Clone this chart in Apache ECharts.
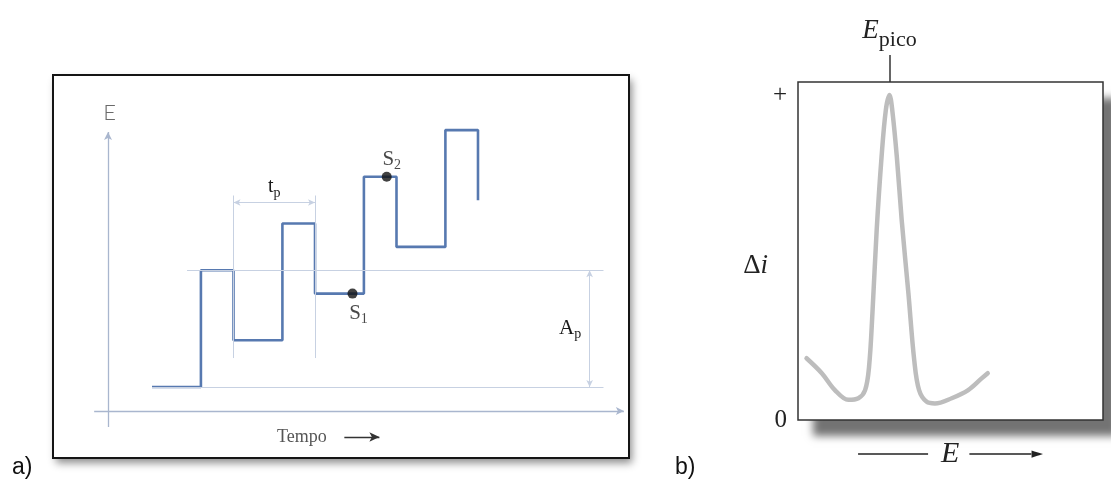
<!DOCTYPE html>
<html>
<head>
<meta charset="utf-8">
<script src="https://cdn.jsdelivr.net/npm/echarts@6/dist/echarts.min.js"></script>
<style>
  html, body { margin: 0; padding: 0; background: #ffffff; }
  #chart { width: 1111px; height: 484px; }
</style>
</head>
<body>
<div id="chart"></div>
<script>
// ---- a) staircase with superimposed pulses ----
// time at which the potential changes, and the level held from that time on
const stepTimes  = [0, 6, 10, 16, 20, 26, 30, 36, 40];
const stepLevels = [0, 5, 2, 7, 4, 9, 6, 11, 8];
// current sampling instants S1 (before pulse) and S2 (end of pulse)
const sampleTimes  = [24.6, 28.8];
const sampleLevels = [4, 9];
const sampleNames  = ['S1', 'S2'];

// ---- b) differential pulse voltammogram ----
const potential = [0.28, 0.78, 1.21, 1.65, 1.98, 2.2, 2.33, 2.44, 2.58, 2.74, 2.88, 3.0,
                   3.09, 3.24, 3.4, 3.62, 3.81, 3.97, 4.22, 4.49, 5.04, 5.58, 6.02, 6.22];
const deltaI    = [0.19, 0.144, 0.092, 0.062, 0.067, 0.092, 0.164, 0.328, 0.585, 0.81, 0.954, 1.0,
                   0.954, 0.81, 0.615, 0.39, 0.185, 0.092, 0.056, 0.051, 0.067, 0.092, 0.128, 0.144];
const peakPotential = 3.0;
const currentTicks  = [0, 1];
const currentTickLabels = ['0', '+'];

// ---------------------------------------------------------------
const SERIF = '"Liberation Serif", "DejaVu Serif", serif';
const SANS  = '"Liberation Sans", Arial, sans-serif';
const WAVE  = '#5779b0';
const AXIS  = '#a9b6ce';
const GUIDE = '#c7d1e2';

const wave = stepTimes.map((t, i) => [t, stepLevels[i]]);
const peak = potential.map((e, i) => [e, deltaI[i]]);

// reference marks derived from the waveform
const base   = stepLevels[0];
const pulse1 = stepLevels[1];
const tpFrom = stepTimes[2];
const tpTo   = stepTimes[4];

// where the drawn axes of panel a cross (data units of that panel)
const axisT = -5.4, axisE = -1.03;
const guideEnd = 55.4, apT = 53.7;

// panel frames: [left, top, width, height]
const frameA = [53, 75, 576, 383];
const frameB = [798, 82, 305, 338];

function seg(p0, p1, color, width, arrows, size) {
  arrows = arrows || ['none', 'none'];
  size = size || [6, 8];
  return [
    { coord: p0, symbol: arrows[0], symbolSize: size, lineStyle: { color: color, width: width, type: 'solid' } },
    { coord: p1, symbol: arrows[1], symbolSize: size }
  ];
}

// subscript text: the smaller run is pushed down by its top padding
const subRich = (main, sub, drop, color) => ({
  m: { fontFamily: SERIF, fontSize: main, lineHeight: main, color: color || '#1a1a1a' },
  s: { fontFamily: SERIF, fontSize: sub, lineHeight: sub, padding: [drop, 0, 0, 0], color: color || '#1a1a1a' }
});

const gridBox = (f, extra) => Object.assign({ left: f[0], top: f[1], width: f[2], height: f[3], show: true, outerBoundsMode: 'none' }, extra);
const hiddenAxis = (gi) => ({ gridIndex: gi, type: 'value', min: 0, max: 1, show: false });

const chart = echarts.init(document.getElementById('chart'), null, { renderer: 'canvas' });

chart.setOption({
  animation: false,
  backgroundColor: '#ffffff',
  title: [
    { text: 'a)', left: 12, top: 456, padding: 0,
      textStyle: { fontFamily: SANS, fontSize: 23, fontWeight: 'normal', color: '#111' } },
    { text: 'b)', left: 675, top: 456, padding: 0,
      textStyle: { fontFamily: SANS, fontSize: 23, fontWeight: 'normal', color: '#111' } }
  ],
  grid: [
    // plotting areas, with their drop shadows
    gridBox(frameA, { backgroundColor: '#ffffff', borderWidth: 0,
      shadowColor: 'rgba(0,0,0,0.45)', shadowBlur: 8, shadowOffsetX: 3, shadowOffsetY: 5 }),
    gridBox(frameB, { backgroundColor: '#ffffff', borderWidth: 0,
      shadowColor: 'rgba(0,0,0,0.55)', shadowBlur: 8, shadowOffsetX: 15, shadowOffsetY: 16 }),
    // frame outlines drawn on top
    gridBox(frameA, { backgroundColor: 'transparent', borderColor: '#151515', borderWidth: 2 }),
    gridBox(frameB, { backgroundColor: 'transparent', borderColor: '#333333', borderWidth: 1.5 })
  ],
  xAxis: [
    { gridIndex: 0, type: 'value', min: -12.15, max: 58.53, show: false },
    { gridIndex: 1, type: 'value', min: 0, max: 10, position: 'bottom',
      axisLine: { show: false }, axisTick: { show: false }, axisLabel: { show: false }, splitLine: { show: false },
      name: '{l1|}{e|E}{l2|}{ar|►}', nameLocation: 'middle', nameGap: 19,
      nameTextStyle: {
        rich: {
          l1: { width: 70, height: 1.6, backgroundColor: '#222' },
          e:  { fontFamily: SERIF, fontStyle: 'italic', fontSize: 30, lineHeight: 30, color: '#222', padding: [0, 10, 0, 13] },
          l2: { width: 62, height: 1.6, backgroundColor: '#222' },
          ar: { fontFamily: '"DejaVu Sans", sans-serif', fontSize: 15, color: '#222' }
        }
      } },
    { gridIndex: 1, type: 'value', min: 0, max: 10, position: 'top',
      axisLine: { show: false }, splitLine: { show: false },
      axisTick: { show: true, customValues: [peakPotential], length: 27, inside: false,
        lineStyle: { color: '#333', width: 1.5 } },
      axisLabel: { show: true, customValues: [peakPotential], margin: 38,
        formatter: () => '{e|E}{s|pico}',
        rich: {
          e: { fontFamily: SERIF, fontStyle: 'italic', fontSize: 27, lineHeight: 27, color: '#222' },
          s: { fontFamily: SERIF, fontSize: 22, lineHeight: 22, padding: [20, 0, 0, 0], color: '#222' }
        } } },
    hiddenAxis(2),
    hiddenAxis(3)
  ],
  yAxis: [
    { gridIndex: 0, type: 'value', min: -3.04, max: 13.36, show: false },
    { gridIndex: 1, type: 'value', min: 0, max: 1.04,
      axisLine: { show: false }, axisTick: { show: false }, splitLine: { show: false },
      axisLabel: { show: true, customValues: currentTicks, margin: 11,
        formatter: v => currentTickLabels[currentTicks.indexOf(v)],
        fontFamily: SERIF, fontSize: 25, color: '#222' },
      name: '{d|Δ}{i|i}', nameLocation: 'middle', nameRotate: 0, nameGap: 10,
      nameTextStyle: {
        align: 'right', padding: [30, 0, 0, 0],
        rich: {
          d: { fontFamily: SERIF, fontSize: 27, color: '#222' },
          i: { fontFamily: SERIF, fontStyle: 'italic', fontSize: 27, color: '#222' }
        }
      } },
    hiddenAxis(2),
    hiddenAxis(3)
  ],
  series: [
    // guides, axes and annotations of panel a
    {
      type: 'line', xAxisIndex: 0, yAxisIndex: 0, data: [], z: 1, silent: true,
      markLine: {
        silent: true, animation: false,
        label: { show: false },
        data: [
          // drawn axes
          seg([axisT, -1.71], [axisT, 10.92], AXIS, 1.3, ['none', 'arrow'], [6, 8]),
          seg([-7.1, axisE], [57.9, axisE], AXIS, 1.3, ['none', 'arrow'], [6, 8]),
          // amplitude guides
          seg([4.3, pulse1], [guideEnd, pulse1], GUIDE, 1),
          seg([stepTimes[0], base], [guideEnd, base], GUIDE, 1),
          seg([apT, base], [apT, pulse1], GUIDE, 1, ['arrow', 'arrow'], [5, 7]),
          // period guides
          seg([tpFrom, 1.24], [tpFrom, 8.2], GUIDE, 1),
          seg([tpTo, 1.24], [tpTo, 8.2], GUIDE, 1),
          seg([tpFrom, 7.9], [tpTo, 7.9], GUIDE, 1, ['arrow', 'arrow'], [5, 7]),
          // time direction arrow
          seg([23.6, -2.14], [27.9, -2.14], '#333', 1.4, ['none', 'arrow'], [7, 10])
        ]
      },
      markPoint: {
        silent: true, animation: false,
        symbol: 'circle', symbolSize: 0,
        label: { show: true, position: 'inside' },
        data: [
          { coord: [axisT + 0.2, 11.73],
            label: { formatter: 'E', fontFamily: 'Lato, ' + SANS, fontWeight: 300, fontSize: 22, color: '#6a6a6a' } },
          { coord: [(tpFrom + tpTo) / 2, 8.56],
            label: { formatter: '{m|t}{s|p}', rich: subRich(20, 14, 12) } },
          { coord: [51.3, (base + pulse1) / 2],
            label: { formatter: '{m|A}{s|p}', rich: subRich(21, 14, 12) } },
          { coord: [18.4, -2.14],
            label: { formatter: 'Tempo', fontFamily: SERIF, fontSize: 18, color: '#555' } }
        ]
      }
    },
    // staircase potential
    {
      type: 'line', xAxisIndex: 0, yAxisIndex: 0, z: 3,
      step: 'end', data: wave, showSymbol: false, silent: true,
      lineStyle: { color: WAVE, width: 2.6 }
    },
    // sampling points
    {
      type: 'scatter', xAxisIndex: 0, yAxisIndex: 0, z: 4, silent: true,
      symbolSize: 10, itemStyle: { color: '#111' },
      data: sampleTimes.map((t, i) => ({
        value: [t, sampleLevels[i]],
        label: {
          show: true, position: 'inside',
          offset: i === 0 ? [6, 20] : [5, -17],
          formatter: '{m|' + sampleNames[i].charAt(0) + '}{s|' + sampleNames[i].slice(1) + '}',
          rich: subRich(21, 14, 12)
        }
      }))
    },
    // differential current peak
    {
      type: 'line', xAxisIndex: 1, yAxisIndex: 1, z: 3,
      data: peak, smooth: 0.35, showSymbol: false, silent: true,
      lineStyle: { color: '#bdbdbd', width: 4.5, cap: 'round', join: 'round' }
    }
  ]
});
</script>
</body>
</html>
